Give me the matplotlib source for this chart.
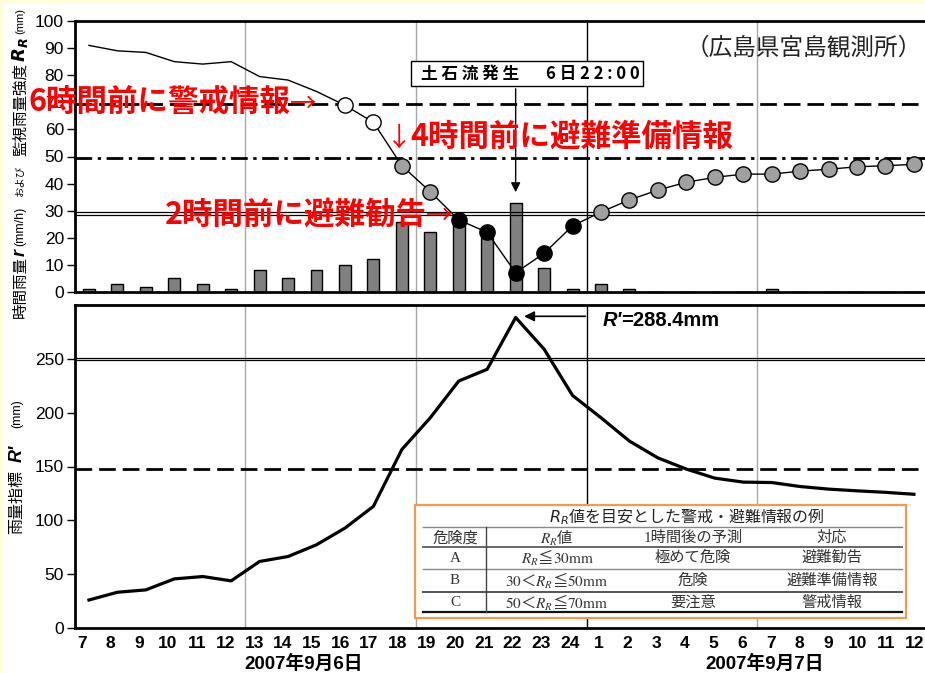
import numpy as np
import matplotlib
matplotlib.use('Agg')
import matplotlib.pyplot as plt
from matplotlib.patches import Rectangle
from matplotlib.lines import Line2D

plt.rcParams['font.family'] = ['Liberation Sans', 'Noto Sans CJK JP', 'DejaVu Sans']

# ---------------- data ----------------
hours = ['7', '8', '9', '10', '11', '12', '13', '14', '15', '16', '17', '18',
         '19', '20', '21', '22', '23', '24',
         '1', '2', '3', '4', '5', '6', '7', '8', '9', '10', '11', '12']
rain_r = [1, 3, 2, 5, 3, 1, 8, 5, 8, 10, 12, 26, 22, 27, 20, 33, 9, 1,
          3, 1, 0, 0, 0, 0, 1, 0, 0, 0, 0, 0]
rr = [91, 89, 88.4, 85, 84.1, 85, 79.5, 78.2, 74, 68.9, 62.6, 46.6, 37, 26.6,
      22, 7.1, 14.3, 24.4, 29.5, 34, 37.6, 40.5, 42.3, 43.5, 43.5, 44.6, 45.3,
      46.2, 46.6, 47.1]
rr_level = (['none'] * 9 + ['C'] * 2 + ['B'] * 2 + ['A'] * 5 + ['B'] * 12)
rprime = [26, 33.2, 35.4, 45.6, 47.8, 43.8, 61.8, 66.4, 77.3, 92.8, 113,
          165.8, 195.3, 229.4, 240.3, 288.4, 259, 216, 195.3, 173.6, 158,
          147.6, 139.2, 135.5, 135.1, 131.4, 129, 127.4, 126, 124.2]
rr_warn, rr_prep, rr_evac = 69.5, 49.3, (28.3, 29.5)
rp_line, rp_double = 148, (248.7, 251.2)
day_labels = ['2007年9月6日', '2007年9月7日']
event_idx = 15
peak_label = '=288.4mm'

table_title = '$R_R$値を目安とした警戒・避難情報の例'
table_header = ['危険度', '$R_R$値', '1時間後の予測', '対応']
table_rows = [['A', '$R_R$≦$30\\mathrm{mm}$', '極めて危険', '避難勧告'],
              ['B', '$30$＜$R_R$≦$50\\mathrm{mm}$', '危険', '避難準備情報'],
              ['C', '$50$＜$R_R$≦$70\\mathrm{mm}$', '要注意', '警戒情報']]

# ---------------- figure ----------------
W, H = 925, 673
fig = plt.figure(figsize=(W / 100, H / 100), dpi=100, facecolor='#FFFFD6')


def fx(p):
    return p / W


def fy(p):
    return 1 - p / H


fig.add_artist(Rectangle((fx(4), 0), 1, fy(4), transform=fig.transFigure,
                         facecolor='white', edgecolor='none', zorder=-10))

ax1 = fig.add_axes([fx(75), fy(292), (927 - 75) / W, (292 - 21) / H])
ax2 = fig.add_axes([fx(75), fy(628), (927 - 75) / W, (628 - 305) / H])

x = np.arange(len(hours))
xlim = (-0.49, 29.46)

for ax in (ax1, ax2):
    ax.set_xlim(*xlim)
    for s in ('left', 'top', 'bottom'):
        ax.spines[s].set_linewidth(2)
    ax.spines['right'].set_visible(False)
    for xv, c in [(5.5, '#a8a8a8'), (11.5, '#a8a8a8'), (17.5, 'black'), (23.5, '#a8a8a8')]:
        ax.axvline(xv, color=c, lw=1, zorder=1)
    ax.tick_params(axis='y', direction='out', length=6, width=1, labelsize=12.5, pad=2)

# top panel
ax1.bar(x, rain_r, width=0.42, color='#808080', edgecolor='black', lw=1, zorder=2)
ax1.axhline(rr_warn, color='black', lw=2, ls=(0, (6, 2.5)), zorder=2)
ax1.axhline(rr_prep, color='black', lw=2, ls=(0, (6, 2, 1.2, 2)), zorder=2)
for v in rr_evac:
    ax1.axhline(v, color='black', lw=0.9, zorder=2)
ax1.plot(x, rr, color='black', lw=1, zorder=3)
rr_arr = np.array(rr)
lv = np.array(rr_level)
for level, fc in [('C', 'white'), ('B', '#a0a0a0'), ('A', 'black')]:
    m = lv == level
    ax1.plot(x[m], rr_arr[m], ls='none', marker='o', ms=11, mfc=fc, mec='black',
             mew=1, zorder=4)
ax1.set_ylim(0, 100)
ax1.set_yticks(range(0, 101, 10))
ax1.set_xticks([])

ax1.annotate('', xy=(event_idx, 35.8), xytext=(event_idx, 76),
             arrowprops=dict(arrowstyle='-|>', color='black', lw=1, mutation_scale=14),
             zorder=5)

# bottom panel
ax2.axhline(rp_line, color='black', lw=2, ls=(0, (6, 2.5)), zorder=2)
for v in rp_double:
    ax2.axhline(v, color='black', lw=0.9, zorder=2)
ax2.plot(x, rprime, color='black', lw=2.3, zorder=3)
ax2.set_ylim(0, 300)
ax2.set_yticks(range(0, 251, 50))
ax2.set_xticks(np.arange(len(hours)) * 1.0095 - 0.25)
ax2.set_xticklabels(hours, fontsize=12.5, fontweight='bold')
ax2.tick_params(axis='x', length=0, pad=6)

ax2.annotate('', xy=(event_idx + 0.2, 289.5), xytext=(17.55, 289.5),
             arrowprops=dict(arrowstyle='-|>', color='black', lw=1.2, mutation_scale=15),
             zorder=5)
fig.text(fx(603), fy(320), "R'", fontsize=14.5, fontweight='bold', fontstyle='italic',
         ha='left', va='center')
fig.text(fx(621), fy(320), peak_label, fontsize=14.5, fontweight='bold',
         ha='left', va='center')

# day labels
for lab, px in zip(day_labels, (304, 765)):
    fig.text(fx(px), fy(664), lab, ha='center', va='center', fontsize=13.5,
             fontweight='bold')

# y labels (rotated pieces)
CJK = ['Noto Sans CJK JP']
pieces_top = [('(mm)', 21, 8, {}),
              (r'$\mathbfit{R}_{\mathbfit{R}}$', 50, 13, {'math_fontfamily': 'dejavusans'}),
              ('監視雨量強度', 109, 11.2, {'family': CJK}),
              ('および', 180, 7.5, {'family': CJK}),
              ('(mm/h)', 226, 9, {}),
              ('r', 252, 13, {'fontweight': 'bold', 'fontstyle': 'italic'}),
              ('時間雨量', 287, 11.2, {'family': CJK})]
for t, py, fs, kw in pieces_top:
    fig.text(fx(20), fy(py), t, rotation=90, ha='center', va='center', fontsize=fs, **kw)
pieces_bot = [('(mm)', 414, 9, {}),
              ("R'", 453, 13, {'fontweight': 'bold', 'fontstyle': 'italic'}),
              ('雨量指標', 502, 11.5, {'family': CJK})]
for t, py, fs, kw in pieces_bot:
    fig.text(fx(17), fy(py), t, rotation=90, ha='center', va='center', fontsize=fs, **kw)

# title
fig.text(fx(922), fy(48), '（広島県宮島観測所）', ha='right', va='center', fontsize=17,
         family=CJK, color='#222222')

# event box
fig.add_artist(Rectangle((fx(411), fy(86)), (643 - 411) / W, 25 / H, transform=fig.transFigure,
                         facecolor='white', edgecolor='black', lw=1, zorder=4))
fig.text(fx(421), fy(74), '土 石 流 発 生', ha='left', va='center', fontsize=12,
         fontweight='bold', family=CJK, zorder=5)
fig.text(fx(546), fy(74), '6 日 2 2 : 0 0', ha='left', va='center', fontsize=12,
         fontweight='bold', family=CJK, zorder=5)

# red annotations
red = '#FF0000'
fig.text(fx(28), fy(103), '6時間前に警戒情報', color=red, fontsize=22, fontweight='bold',
         family=CJK, ha='left', va='center')
fig.text(fx(303), fy(104), '→', color=red, fontsize=19, family=CJK, ha='center', va='center')
fig.text(fx(399), fy(138), '↓', color=red, fontsize=19, family=CJK, ha='center', va='center')
fig.text(fx(410), fy(137), '4時間前に避難準備情報', color=red, fontsize=22, fontweight='bold',
         family=CJK, ha='left', va='center')
fig.text(fx(165), fy(215), '2時間前に避難勧告', color=red, fontsize=22, fontweight='bold',
         family=CJK, ha='left', va='center')
fig.text(fx(439), fy(216), '→', color=red, fontsize=19, family=CJK, ha='center', va='center')

# table
fig.add_artist(Rectangle((fx(415), fy(618)), (906 - 415) / W, (618 - 505) / H,
                         transform=fig.transFigure, facecolor='white',
                         edgecolor='#F39A4E', lw=1.6, zorder=3))
for py, c, lw in [(527, '#888888', 1), (547, '#666666', 1.4), (569, '#888888', 1),
                  (592, '#555555', 1.4), (612, '#111111', 1.6)]:
    fig.add_artist(Line2D([fx(423), fx(902)], [fy(py), fy(py)], transform=fig.transFigure,
                          color=c, lw=lw, zorder=4))
fig.add_artist(Line2D([fx(486), fx(486)], [fy(527), fy(612)], transform=fig.transFigure,
                      color='#444444', lw=1, zorder=4))


def cell(px, py, s, fs=11):
    if '$' in s:
        fig.text(fx(px), fy(py), s, ha='center', va='center', fontsize=fs, family=CJK,
                 math_fontfamily='stix', color='#333333', zorder=5)
    else:
        fig.text(fx(px), fy(py), s, ha='center', va='center', fontsize=fs,
                 family=['Liberation Serif', 'Noto Sans CJK JP'], color='#333333', zorder=5)


fig.text(fx(687), fy(517), table_title, ha='center', va='center', fontsize=11.5, family=CJK,
         math_fontfamily='dejavusans', color='#222222', zorder=5)
col_x = [455, 557, 693, 832]
for cx, s in zip(col_x, table_header):
    cell(cx, 538, s)
for py, row in zip([558, 581, 603], table_rows):
    for cx, s in zip(col_x, row):
        cell(cx, py, s)

fig.savefig('out.png', dpi=100, facecolor=fig.get_facecolor())
